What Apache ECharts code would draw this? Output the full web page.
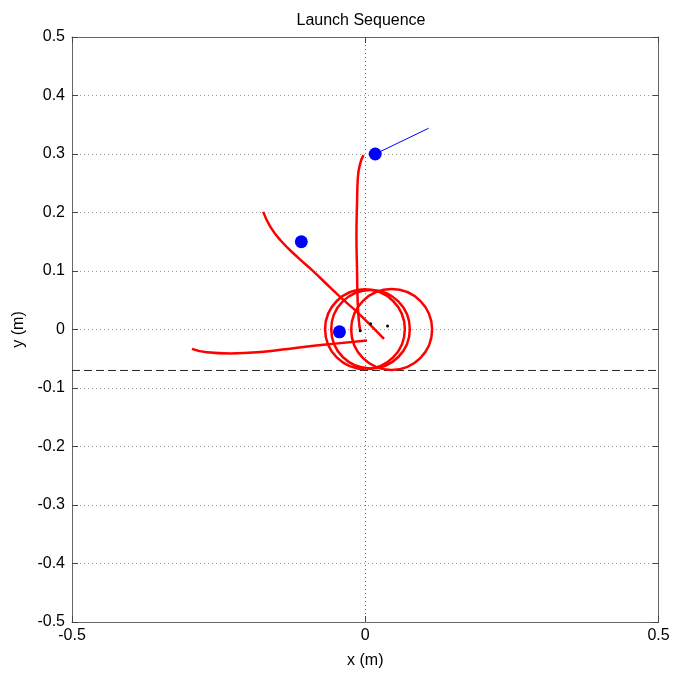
<!DOCTYPE html>
<html>
<head>
<meta charset="utf-8">
<script src="https://cdn.jsdelivr.net/npm/echarts@6/dist/echarts.min.js"></script>
<style>html,body{margin:0;padding:0;background:#fff;}#c{width:673px;height:675px;}</style>
</head>
<body>
<div id="c"></div>
<script>
// ---- data ----
const xTicks = [-0.5, 0, 0.5];
const yTicks = [-0.5, -0.4, -0.3, -0.2, -0.1, 0, 0.1, 0.2, 0.3, 0.4, 0.5];
const groundY = -0.07;

const vertTrail = [[-0.003,0.298],[-0.0085,0.284],[-0.0125,0.261],[-0.014,0.216],[-0.015,0.159],[-0.014,0.102],[-0.013,0.050],[-0.011,0.016],[-0.0085,-0.002]];
const diagTrail = [[-0.174,0.201],[-0.162,0.176],[-0.145,0.153],[-0.116,0.124],[-0.088,0.099],[-0.060,0.072],[-0.031,0.045],[-0.014,0.030],[0.032,-0.016]];
const bottomTrail = [[-0.2955,-0.033],[-0.270,-0.039],[-0.230,-0.041],[-0.173,-0.038],[-0.116,-0.031],[-0.060,-0.025],[0.003,-0.019]];
// loops: [centerX, centerY, radius]
const loops = [[-0.0005,0.0005,0.068],[0.009,0.0005,0.067],[0.045,0.0,0.069]];
const blueDots = [[0.017,0.300],[-0.109,0.150],[-0.044,-0.004]];
const blueLine = [[0.017,0.300],[0.108,0.344]];
const blackDots = [[-0.0085,-0.002],[0.009,0.010],[0.038,0.006]];

const FONT = 'Liberation Sans, Arial, Helvetica, sans-serif';
const chart = echarts.init(document.getElementById('c'));

function axisCommon() {
  return {
    type: 'value',
    axisLine: { show: true, onZero: false, lineStyle: { color: '#666', width: 1 } },
    axisTick: { show: true, inside: true, length: 6, lineStyle: { color: '#444' } }
  };
}

chart.setOption({
  animation: false,
  backgroundColor: '#fff',
  title: {
    text: 'Launch Sequence', left: 356, textAlign: 'center', top: 8,
    textStyle: { fontFamily: FONT, fontSize: 16, fontWeight: 'normal', color: '#000' }
  },
  grid: { left: 72, right: 14.5, top: 37, bottom: 53, containLabel: false, outerBoundsMode: 'none' },
  xAxis: [
    Object.assign(axisCommon(), {
      min: xTicks[0], max: xTicks[xTicks.length - 1], interval: 0.5, position: 'bottom',
      name: 'x (m)', nameLocation: 'middle', nameGap: 31,
      nameTextStyle: { fontFamily: FONT, fontSize: 16, color: '#000' },
      axisLabel: { fontFamily: FONT, fontSize: 16, color: '#000', margin: 6 },
      splitLine: { show: true, lineStyle: { color: '#666', type: [1, 3], width: 1 } }
    }),
    Object.assign(axisCommon(), {
      min: xTicks[0], max: xTicks[xTicks.length - 1], interval: 0.5, position: 'top',
      axisLabel: { show: false }, splitLine: { show: false }
    })
  ],
  yAxis: [
    Object.assign(axisCommon(), {
      min: yTicks[0], max: yTicks[yTicks.length - 1], interval: 0.1, position: 'left',
      name: 'y (m)', nameLocation: 'middle', nameGap: 44,
      nameTextStyle: { fontFamily: FONT, fontSize: 16, color: '#000' },
      axisLabel: { fontFamily: FONT, fontSize: 16, color: '#000', margin: 7 },
      splitLine: { show: true, lineStyle: { color: '#999', type: [1, 3], width: 1 } }
    }),
    Object.assign(axisCommon(), {
      min: yTicks[0], max: yTicks[yTicks.length - 1], interval: 0.1, position: 'right',
      axisLabel: { show: false }, splitLine: { show: false }
    })
  ],
  series: [
    {
      type: 'line', data: [[xTicks[0], groundY], [xTicks[xTicks.length - 1], groundY]],
      symbol: 'none', lineStyle: { color: '#222', width: 1, type: [8, 4] }, silent: true, z: 1
    },
    {
      type: 'custom', data: loops, z: 2, silent: true,
      renderItem: function (params, api) {
        const c = api.coord([api.value(0), api.value(1)]);
        const r = api.size([api.value(2), 0])[0];
        return {
          type: 'circle', shape: { cx: c[0], cy: c[1], r: r },
          style: { fill: 'none', stroke: '#ff0000', lineWidth: 2.5 }
        };
      }
    },
    { type: 'line', data: vertTrail, smooth: true, symbol: 'none', lineStyle: { color: '#ff0000', width: 2.5 }, z: 3 },
    { type: 'line', data: diagTrail, smooth: true, symbol: 'none', lineStyle: { color: '#ff0000', width: 2.5 }, z: 3 },
    { type: 'line', data: bottomTrail, smooth: true, symbol: 'none', lineStyle: { color: '#ff0000', width: 2.5 }, z: 3 },
    { type: 'scatter', data: blackDots, symbol: 'circle', symbolSize: 3, itemStyle: { color: '#000', opacity: 1 }, z: 4 },
    { type: 'line', data: blueLine, symbol: 'none', lineStyle: { color: '#0000ff', width: 1 }, z: 5 },
    { type: 'scatter', data: blueDots, symbol: 'circle', symbolSize: 13, itemStyle: { color: '#0000ff', opacity: 1 }, z: 6 }
  ]
});
</script>
</body>
</html>
